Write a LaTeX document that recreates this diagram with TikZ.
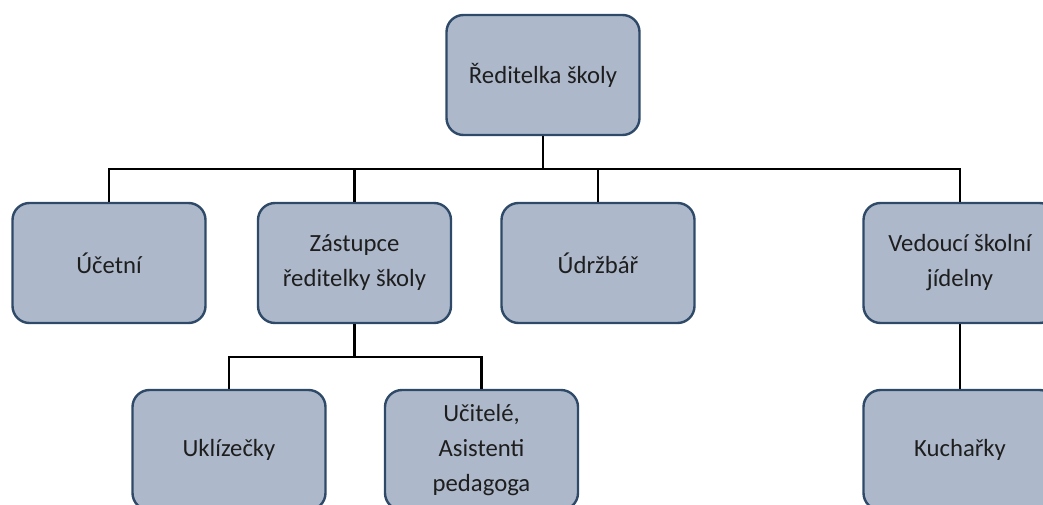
\documentclass[tikz,border=0pt]{standalone}
\usepackage{fontspec}
\setmainfont{Carlito}
\usetikzlibrary{positioning}
\definecolor{boxfill}{HTML}{ADB9CB}
\definecolor{boxline}{HTML}{2E4A68}
\definecolor{boxtext}{HTML}{1E1E1E}

\begin{document}
\begin{tikzpicture}[x=1pt,y=-1pt,
        person/.style={draw=boxline, line width=2.4pt, fill=boxfill,
            rounded corners=17pt, minimum width=193pt, minimum height=120pt,
            align=center, text=boxtext,
            font=\fontsize{24.7}{35}\selectfont},
        link/.style={line width=2.2pt, black}]
        \clip (0,0) rectangle (1043,505);
        \node[person] (reditelka) at (543,75) {Ředitelka školy};
        \node[person] (ucetni) at (109,263) {Účetní};
        \node[person] (zastupce) at (354.5,263) {Zástupce\\ředitelky školy};
        \node[person] (udrzbar) at (598,263) {Údržbář};
        \node[person] (vedouci) at (960,263) {Vedoucí školní\\jídelny};
        \node[person] (uklizecky) at (229,450) {Uklízečky};
        \node[person] (ucitele) at (481.5,450) {Učitelé,\\Asistenti\\pedagoga};
        \node[person] (kucharky) at (960,450) {Kuchařky};

        \foreach \n in {ucetni,zastupce,udrzbar,vedouci}
            \draw[link] (reditelka.south) -- ++(0,33) -| (\n.north);
        \foreach \n in {uklizecky,ucitele}
            \draw[link] (zastupce.south) -- ++(0,33) -| (\n.north);
        \draw[link] (vedouci) -- (kucharky);
    \end{tikzpicture}
\end{document}
